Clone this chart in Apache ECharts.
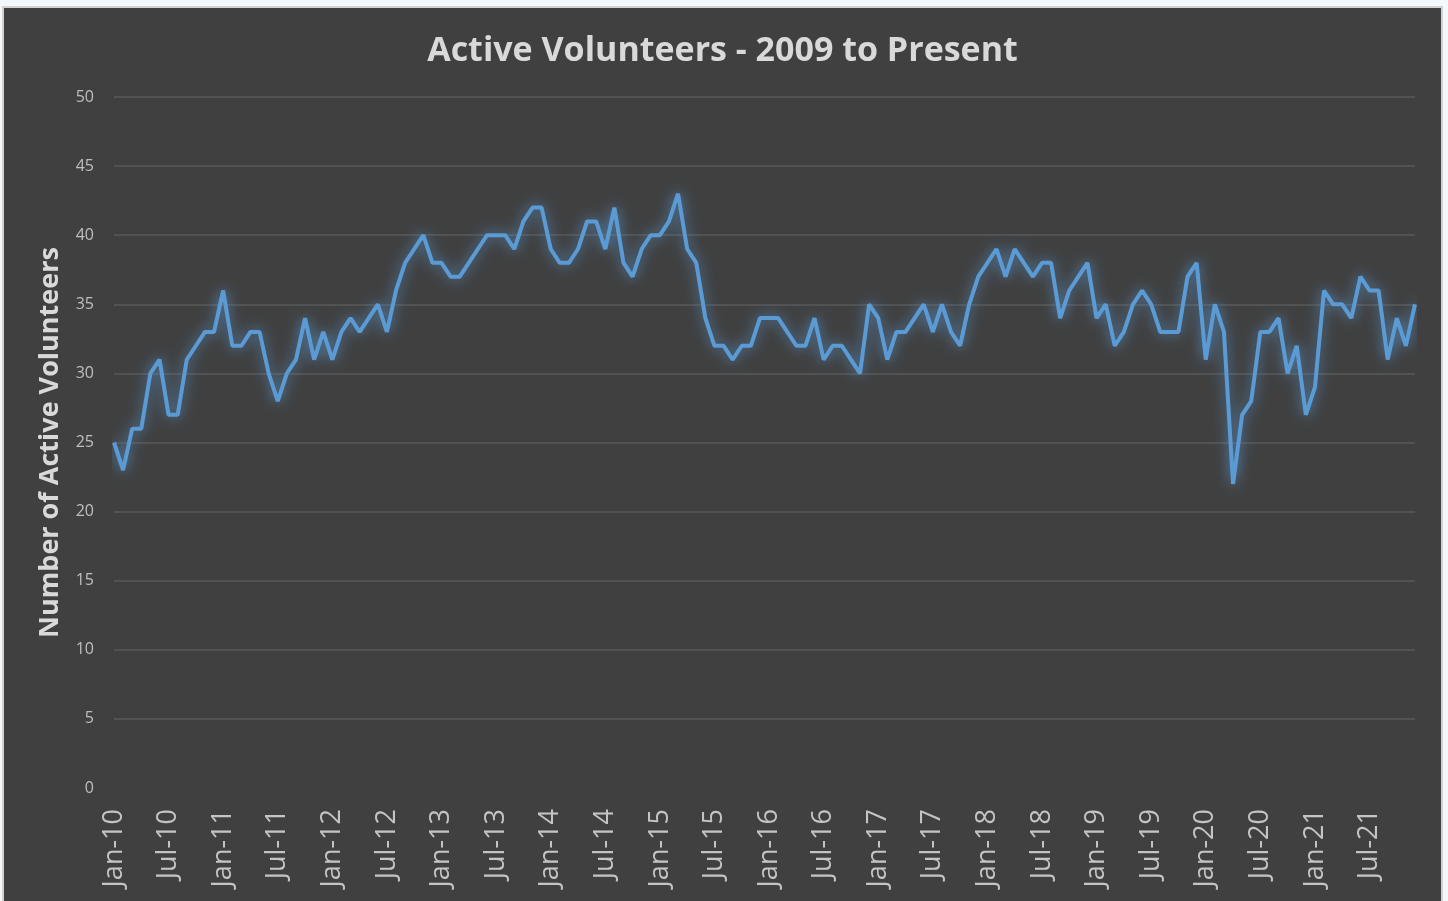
<!DOCTYPE html>
<html>
<head>
    <meta charset="UTF-8">
    <title>Active Volunteers - 2009 to Present</title>
    <style>
        html, body {
            margin: 0;
            padding: 0;
            width: 1448px;
            height: 901px;
            overflow: hidden;
            background-color: #f3f8fc;
        }
        .frame {
            position: absolute;
            left: 2px;
            top: 6px;
            width: 1437px;
            height: 900px;
            border: 2px solid #d2d2d2;
            border-bottom: none;
            background-color: #404040;
        }
        #chart {
            width: 1437px;
            height: 893px;
        }
    </style>
</head>
<body>
    <div class="frame">
        <div id="chart"></div>
    </div>

    <script src="https://cdn.jsdelivr.net/npm/echarts@6/dist/echarts.min.js"></script>
    <script>
        // month labels Jan-10 .. Dec-21
        const monthNames = ['Jan', 'Feb', 'Mar', 'Apr', 'May', 'Jun', 'Jul', 'Aug', 'Sep', 'Oct', 'Nov', 'Dec'];
        const yearLabels = ['10', '11', '12', '13', '14', '15', '16', '17', '18', '19', '20', '21'];
        const categories = [];
        yearLabels.forEach(y => monthNames.forEach(m => categories.push(m + '-' + y)));

        // active volunteers per month, one row per year
        const volunteers = [
            25, 23, 26, 26, 30, 31, 27, 27, 31, 32, 33, 33,
            36, 32, 32, 33, 33, 30, 28, 30, 31, 34, 31, 33,
            31, 33, 34, 33, 34, 35, 33, 36, 38, 39, 40, 38,
            38, 37, 37, 38, 39, 40, 40, 40, 39, 41, 42, 42,
            39, 38, 38, 39, 41, 41, 39, 42, 38, 37, 39, 40,
            40, 41, 43, 39, 38, 34, 32, 32, 31, 32, 32, 34,
            34, 34, 33, 32, 32, 34, 31, 32, 32, 31, 30, 35,
            34, 31, 33, 33, 34, 35, 33, 35, 33, 32, 35, 37,
            38, 39, 37, 39, 38, 37, 38, 38, 34, 36, 37, 38,
            34, 35, 32, 33, 35, 36, 35, 33, 33, 33, 37, 38,
            31, 35, 33, 22, 27, 28, 33, 33, 34, 30, 32, 27,
            29, 36, 35, 35, 34, 37, 36, 36, 31, 34, 32, 35
        ];

        const chart = echarts.init(document.getElementById('chart'));

        const option = {
            backgroundColor: '#404040',
            animation: false,
            title: {
                text: 'Active Volunteers - 2009 to Present',
                left: 'center',
                top: 21,
                textStyle: {
                    color: '#d9d9d9',
                    fontFamily: 'Open Sans',
                    fontWeight: 'bold',
                    fontSize: 34
                }
            },
            grid: { left: 110, right: 26, top: 89, bottom: 113 },
            xAxis: {
                type: 'category',
                data: categories,
                boundaryGap: false,
                axisLine: { show: false },
                axisTick: { show: false },
                axisLabel: {
                    interval: 5,
                    rotate: 90,
                    margin: 21,
                    color: '#c4c4c4',
                    fontFamily: 'Open Sans',
                    fontSize: 27
                }
            },
            yAxis: {
                type: 'value',
                min: 0,
                max: 50,
                interval: 5,
                name: 'Number of Active Volunteers',
                nameLocation: 'middle',
                nameGap: 50,
                nameTextStyle: {
                    color: '#d9d9d9',
                    fontFamily: 'Open Sans',
                    fontWeight: 'bold',
                    fontSize: 27
                },
                axisLine: { show: false },
                axisTick: { show: false },
                axisLabel: {
                    margin: 20,
                    color: '#bfbfbf',
                    fontFamily: 'Open Sans',
                    fontSize: 16
                },
                splitLine: {
                    showMinLine: false,
                    lineStyle: { color: '#595959', width: 1.5 }
                }
            },
            series: [{
                name: 'Active Volunteers',
                type: 'line',
                data: volunteers,
                showSymbol: false,
                symbol: 'none',
                lineStyle: {
                    color: '#5b9bd5',
                    width: 4,
                    shadowBlur: 14,
                    shadowColor: 'rgba(91, 155, 213, 0.9)'
                }
            }]
        };

        chart.setOption(option);
    </script>
</body>
</html>
